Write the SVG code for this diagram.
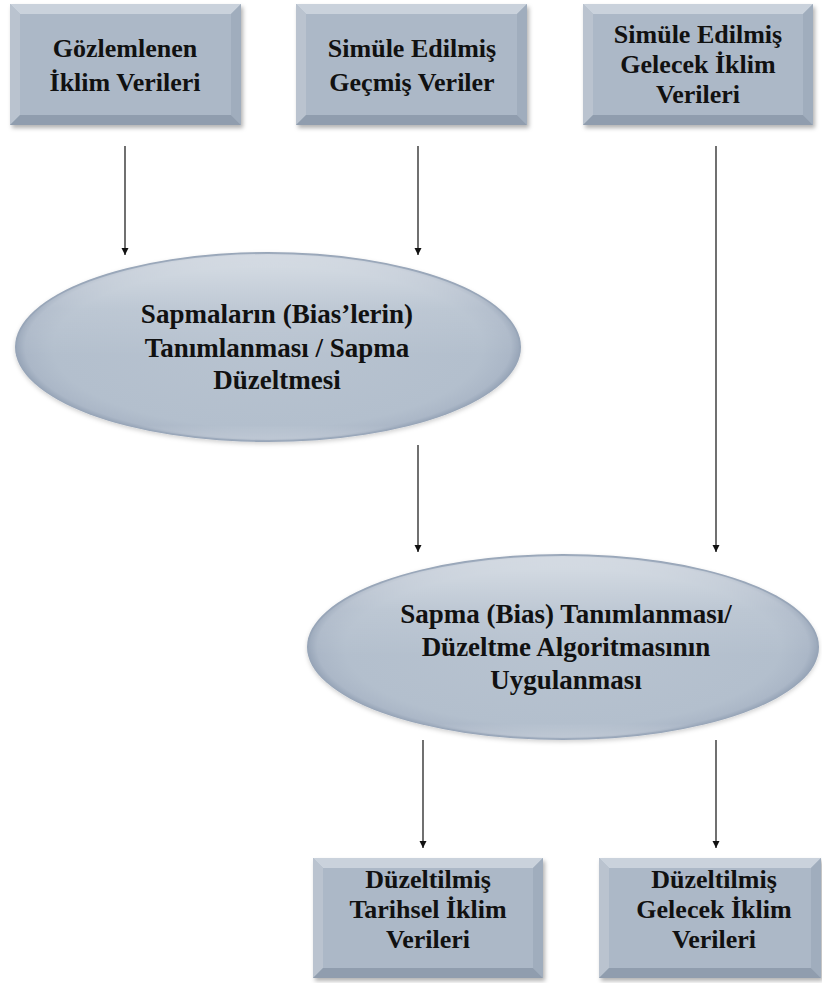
<svg xmlns="http://www.w3.org/2000/svg" width="822" height="983" viewBox="0 0 822 983">
<defs>
<style>
.lbl{font-weight:700;font-size:26px;fill:#111;text-anchor:middle}
.lbl .te{font-size:27px}
.face{fill:#acb8c7}
.bt{fill:#cad2dc}
.bl{fill:#bac3cf}
.br{fill:#a0adbd}
.bb{fill:#909dae}
.conn line{stroke:#111;stroke-width:1.2}
</style>
<filter id="sh" x="-10%" y="-10%" width="125%" height="130%">
<feDropShadow dx="2" dy="3" stdDeviation="2" flood-color="#000" flood-opacity="0.3"/>
</filter>
<filter id="esh" x="-10%" y="-10%" width="120%" height="130%">
<feDropShadow dx="0" dy="2" stdDeviation="2" flood-color="#000" flood-opacity="0.18"/>
</filter>
<radialGradient id="eg" cx="50%" cy="50%" r="50%">
<stop offset="0" stop-color="#b8c3d0"/>
<stop offset="0.85" stop-color="#b3bfcd"/>
<stop offset="0.96" stop-color="#abb7c7"/>
<stop offset="1" stop-color="#95a3b6"/>
</radialGradient>
<linearGradient id="hl" x1="0" y1="0" x2="0" y2="1">
<stop offset="0" stop-color="#fff" stop-opacity="0.5"/>
<stop offset="0.3" stop-color="#fff" stop-opacity="0.12"/>
<stop offset="0.55" stop-color="#fff" stop-opacity="0"/>
<stop offset="0.92" stop-color="#fff" stop-opacity="0"/>
<stop offset="1" stop-color="#fff" stop-opacity="0.25"/>
</linearGradient>
<marker id="ah" viewBox="0 0 10 10" refX="10" refY="5" markerWidth="7" markerHeight="9" markerUnits="userSpaceOnUse" orient="auto">
<path d="M0,0 L10,5 L0,10 z" fill="#111"/>
</marker>
</defs>
<rect width="822" height="983" fill="#fff"/>

<g class="conn" id="connectors">
<line x1="125" y1="146" x2="125" y2="255" marker-end="url(#ah)"/>
<line x1="418" y1="146" x2="418" y2="255" marker-end="url(#ah)"/>
<line x1="716" y1="146" x2="716" y2="552" marker-end="url(#ah)"/>
<line x1="418" y1="445" x2="418" y2="552" marker-end="url(#ah)"/>
<line x1="423" y1="740" x2="423" y2="848" marker-end="url(#ah)"/>
<line x1="716" y1="740" x2="716" y2="848" marker-end="url(#ah)"/>
</g>

<g class="lbl" font-family="Liberation Serif, DejaVu Serif, Noto Serif, serif">
<g id="n1">
<g filter="url(#sh)">
<rect class="face" x="10" y="4" width="231" height="121"/>
<polygon class="bt" points="10,4 241,4 231,14 20,14"/>
<polygon class="bl" points="10,4 20,14 20,115 10,125"/>
<polygon class="br" points="241,4 241,125 231,115 231,14"/>
<polygon class="bb" points="10,125 20,115 231,115 241,125"/>
</g>
<text x="125" y="57">Gözlemlenen</text>
<text x="125" y="91">İklim Verileri</text>
</g>

<g id="n2">
<g filter="url(#sh)">
<rect class="face" x="296" y="4" width="231" height="121"/>
<polygon class="bt" points="296,4 527,4 517,14 306,14"/>
<polygon class="bl" points="296,4 306,14 306,115 296,125"/>
<polygon class="br" points="527,4 527,125 517,115 517,14"/>
<polygon class="bb" points="296,125 306,115 517,115 527,125"/>
</g>
<text x="412" y="57">Simüle Edilmiş</text>
<text x="412" y="91">Geçmiş Veriler</text>
</g>

<g id="n3">
<g filter="url(#sh)">
<rect class="face" x="583" y="4" width="230" height="121"/>
<polygon class="bt" points="583,4 813,4 803,14 593,14"/>
<polygon class="bl" points="583,4 593,14 593,115 583,125"/>
<polygon class="br" points="813,4 813,125 803,115 803,14"/>
<polygon class="bb" points="583,125 593,115 803,115 813,125"/>
</g>
<text x="698" y="43">Simüle Edilmiş</text>
<text x="698" y="73">Gelecek İklim</text>
<text x="698" y="103">Verileri</text>
</g>

<g id="n4">
<ellipse cx="268" cy="347" rx="253" ry="95" fill="url(#eg)" filter="url(#esh)"/>
<ellipse cx="268" cy="347" rx="251" ry="93" fill="url(#hl)"/>
<text class="te" x="277" y="323">Sapmaların (Bias’lerin)</text>
<text class="te" x="277" y="357">Tanımlanması / Sapma</text>
<text class="te" x="277" y="389">Düzeltmesi</text>
</g>

<g id="n5">
<ellipse cx="563" cy="647" rx="256" ry="93" fill="url(#eg)" filter="url(#esh)"/>
<ellipse cx="563" cy="647" rx="254" ry="91" fill="url(#hl)"/>
<text class="te" x="566" y="623">Sapma (Bias) Tanımlanması/</text>
<text class="te" x="566" y="656">Düzeltme Algoritmasının</text>
<text class="te" x="566" y="689">Uygulanması</text>
</g>

<g id="n6">
<g filter="url(#sh)">
<rect class="face" x="313" y="858" width="230" height="120"/>
<polygon class="bt" points="313,858 543,858 533,868 323,868"/>
<polygon class="bl" points="313,858 323,868 323,968 313,978"/>
<polygon class="br" points="543,858 543,978 533,968 533,868"/>
<polygon class="bb" points="313,978 323,968 533,968 543,978"/>
</g>
<text x="428" y="888">Düzeltilmiş</text>
<text x="428" y="918">Tarihsel İklim</text>
<text x="428" y="948">Verileri</text>
</g>

<g id="n7">
<g filter="url(#sh)">
<rect class="face" x="599" y="858" width="222" height="120"/>
<polygon class="bt" points="599,858 821,858 811,868 609,868"/>
<polygon class="bl" points="599,858 609,868 609,968 599,978"/>
<polygon class="br" points="821,858 821,978 811,968 811,868"/>
<polygon class="bb" points="599,978 609,968 811,968 821,978"/>
</g>
<text x="714" y="888">Düzeltilmiş</text>
<text x="714" y="918">Gelecek İklim</text>
<text x="714" y="948">Verileri</text>
</g>
</g>
</svg>
